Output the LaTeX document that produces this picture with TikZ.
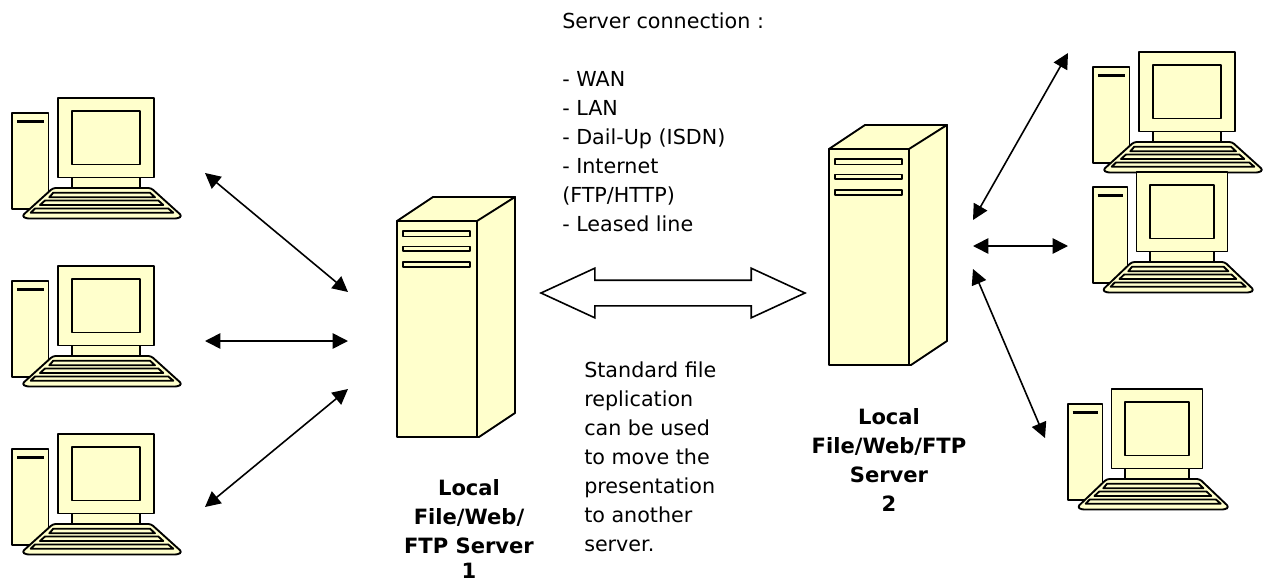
\documentclass[tikz,border=0pt]{standalone}
\usepackage{fontspec}
\setmainfont{DejaVu Sans}
\usetikzlibrary{arrows.meta,shapes.arrows}
\definecolor{myyellow}{RGB}{255,255,204}

\tikzset{
    part/.style={draw=black, fill=myyellow, line width=1.4pt, line join=round},
    link/.style={{Triangle[length=11.5pt,width=11.5pt]}-{Triangle[length=11.5pt,width=11.5pt]}, line width=1.2pt},
    label/.style={inner sep=0pt, font=\fontsize{15.5}{21.75}\selectfont, align=left},
    caption/.style={inner sep=0pt, font=\fontsize{15.8}{21.75}\selectfont\bfseries, align=center},
    computer/.pic={
        \draw[part] (12,113) rectangle (48.5,209);
        \draw[line width=2.6pt] (17,121.5) -- (44,121.5);
        \draw[part] (58,98) rectangle (154,177.5);
        \draw[part] (72,111) rectangle (140,164.5);
        \draw[part] (72,177.5) rectangle (140,188);
        \draw[part, rounded corners=2] (53,188) -- (151,188) -- (182,216) -- (178,218.5)
            -- (26,218.5) -- (22,216) -- cycle;
        \draw[part] (53.3,192.7) -- (150,192.7) -- (155,197.3) -- (49.3,197.3) -- cycle;
        \draw[part] (45,200.5) -- (158.3,200.5) -- (163.3,205) -- (40,205) -- cycle;
        \draw[part] (35,208.5) -- (168.3,208.5) -- (173.3,212.7) -- (30.7,212.7) -- cycle;
    },
    server/.pic={
        \draw[part] (0,0) -- (36,-24) -- (118,-24) -- (82,0) -- cycle;
        \draw[part] (80,0) -- (118,-24) -- (118,192) -- (82,216) -- (80,216) -- cycle;
        \draw[part] (0,0) rectangle (80,216);
        \draw[part] (6,10) rectangle (73,15.5);
        \draw[part] (6,25.5) rectangle (73,30);
        \draw[part] (6,41) rectangle (73,46);
    }
}

\begin{document}
\begin{tikzpicture}[x=0.75pt, y=-0.75pt]
    \useasboundingbox (0,0) rectangle (1265,579);

    \pic (pca) at (0,0) {computer};
    \pic (pcb) at (0,168) {computer};
    \pic (pcc) at (0,336) {computer};
    \pic (pcd) at (1081,-46) {computer};
    \pic[xscale=0.947] (pce) at (1081.6,74) {computer};
    \pic[xscale=0.947] (pcf) at (1056.6,291) {computer};

    \pic (srva) at (397,221) {server};
    \pic (srvb) at (829,149) {server};

    % Left side
    \coordinate (pcaport) at (205,173);
    \coordinate (pcbport) at (205,341);
    \coordinate (pccport) at (205,507);
    \coordinate (srvaup) at (348,292);
    \coordinate (srvamid) at (348,341);
    \coordinate (srvadown) at (348,389);
    \draw[link] (pcaport) -- (srvaup);
    \draw[link] (pcbport) -- (srvamid);
    \draw[link] (pccport) -- (srvadown);

    % Right side
    \coordinate (pcdport) at (1068,53);
    \coordinate (pceport) at (1068,246);
    \coordinate (pcfport) at (1045,438);
    \coordinate (srvbup) at (973,220);
    \coordinate (srvbmid) at (973,246);
    \coordinate (srvbdown) at (973,269);
    \draw[link] (pcdport) -- (srvbup);
    \draw[link] (pceport) -- (srvbmid);
    \draw[link] (pcfport) -- (srvbdown);

    \node[double arrow, draw, line width=1.2pt, inner sep=0pt, outer sep=0pt, minimum height=198pt,
        text height=18pt, text depth=0pt, text width=0pt, double arrow head extend=9pt,
        double arrow tip angle=49.5] (replarrow) at (673,293) {};

    \node[label, anchor=north west] (connlabel) at (562,13) {
        Server connection :\\[21.75pt]
        - WAN\\
        - LAN\\
        - Dail-Up (ISDN)\\
        - Internet\\
        (FTP/HTTP)\\
        - Leased line
    };
    \node[label, anchor=north west] (repllabel) at (584,362) {
        Standard file\\
        replication\\
        can be used\\
        to move the\\
        presentation\\
        to another\\
        server.
    };
    \node[caption, anchor=north] (srvalabel) at (469,479) {
        Local\\
        File/Web/\\
        FTP Server\\[-2.5pt]
        1
    };
    \node[caption, anchor=north] (srvblabel) at (889,408) {
        Local\\
        File/Web/FTP\\
        Server\\
        2
    };
\end{tikzpicture}
\end{document}
